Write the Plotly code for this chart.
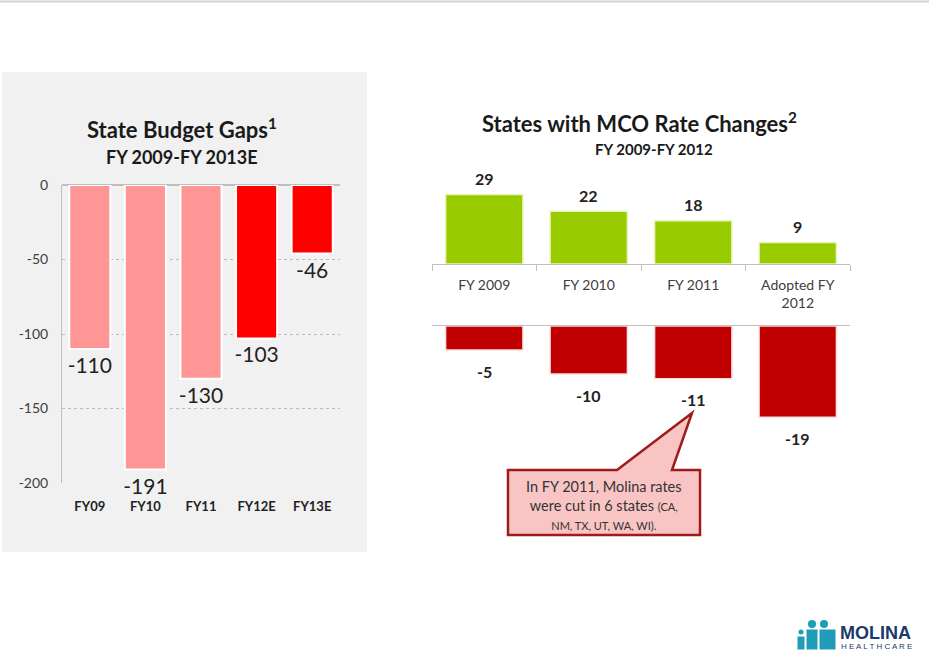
import plotly.graph_objects as go

W, H = 929, 657

# left chart: state budget gaps
budget_years = ["FY09", "FY10", "FY11", "FY12E", "FY13E"]
budget_gaps = [-110, -191, -130, -103, -46]
budget_ticks = [0, -50, -100, -150, -200]

# right chart: states with MCO rate changes
mco_years = ["FY 2009", "FY 2010", "FY 2011", "Adopted FY<br>2012"]
mco_increases = [29, 22, 18, 9]
mco_cuts = [-5, -10, -11, -19]

FONT = "Lato"


def px(x):
    return x / W


def py(y):
    return 1 - y / H


def path(points):
    s = "M " + " L ".join(f"{px(x):.5f},{py(y):.5f}" for x, y in points)
    return s + " Z"


def note(x, y, text, size, color="#1a1a1a", family=FONT, xanchor="center", **kw):
    return dict(x=px(x), y=py(y), xref="paper", yref="paper", showarrow=False,
                xanchor=xanchor, yanchor="middle", text=text,
                font=dict(family=family, size=size, color=color), **kw)


budget_colors = ["#FF0000" if y.endswith("E") else "#FF9696" for y in budget_years]

fig = go.Figure()

fig.add_trace(go.Bar(
    x=budget_years, y=budget_gaps, xaxis="x", yaxis="y",
    marker=dict(color=budget_colors, line=dict(color="white", width=2)),
    text=[str(v) for v in budget_gaps], texttemplate="%{text}",
    textposition="outside", constraintext="none", cliponaxis=False,
    textfont=dict(family=FONT, size=21, color="#222222"),
    hoverinfo="skip",
))

fig.add_trace(go.Bar(
    x=mco_years, y=mco_increases, xaxis="x2", yaxis="y2",
    marker=dict(color="#99CC00", line=dict(color="#EAF5C0", width=1.5)),
    cliponaxis=False, hoverinfo="skip",
))

fig.add_trace(go.Bar(
    x=mco_years, y=mco_cuts, xaxis="x3", yaxis="y3",
    marker=dict(color="#C00000", line=dict(color="#F5E0E0", width=1.5)),
    cliponaxis=False, hoverinfo="skip",
))

annotations = []
for cat, v in zip(mco_years, mco_increases):
    annotations.append(dict(x=cat, y=v, xref="x2", yref="y2", text=f"<b>{v}</b>",
                            showarrow=False, yshift=16,
                            font=dict(family=FONT, size=16, color="#222222")))
for cat, v in zip(mco_years, mco_cuts):
    annotations.append(dict(x=cat, y=v, xref="x3", yref="y3", text=f"<b>{v}</b>",
                            showarrow=False, yshift=-21,
                            font=dict(family=FONT, size=16, color="#222222")))

annotations += [
    note(182, 128, "<b>State Budget Gaps<sup>1</sup></b>", 22),
    note(182, 157, "<b>FY 2009-FY 2013E</b>", 18),
    note(639, 122, "<b>States with MCO Rate Changes<sup>2</sup></b>", 22),
    note(654, 149, "<b>FY 2009-FY 2012</b>", 15),
    note(604, 505,
         "In FY 2011, Molina rates<br>were cut in 6 states <span style='font-size:11px'>(CA,</span>"
         "<br><span style='font-size:11px'>NM, TX, UT, WA, WI).</span>",
         14.5, color="#333333", align="center"),
    note(838, 633, "<b>MOLINA</b>", 18, color="#1B3A6B", family="Liberation Sans", xanchor="left"),
    note(839, 646, "H E A L T H C A R E", 8, color="#1B3A6B", family="Liberation Sans", xanchor="left"),
]

shapes = [
    # top rule
    dict(type="line", xref="paper", yref="paper", x0=0, x1=1, y0=py(1.5), y1=py(1.5),
         line=dict(color="#D3D3D3", width=2)),
    # left panel background
    dict(type="rect", xref="paper", yref="paper", x0=px(2), x1=px(367), y0=py(552), y1=py(72),
         fillcolor="#F1F1F1", line=dict(width=0), layer="below"),
    # callout
    dict(type="path", xref="paper", yref="paper",
         path=path([(508, 470), (617, 470), (692, 413), (672, 470), (700, 470), (700, 535), (508, 535)]),
         fillcolor="#F9C4C4", line=dict(color="#9E1B1B", width=2.5), layer="below"),
]

# logo figures
TEAL = "#1F9CB8"
for cx, cy, r in [(801, 632, 2.5), (812, 624, 4), (824, 624, 4)]:
    shapes.append(dict(type="circle", xref="paper", yref="paper",
                       x0=px(cx - r), x1=px(cx + r), y0=py(cy + r), y1=py(cy - r),
                       fillcolor=TEAL, line=dict(width=0)))
for x0, x1, y0 in [(797, 805, 636), (806, 818, 629), (819, 836, 629)]:
    shapes.append(dict(type="rect", xref="paper", yref="paper",
                       x0=px(x0), x1=px(x1), y0=py(650), y1=py(y0),
                       fillcolor=TEAL, line=dict(color="white", width=1)))

fig.update_layout(
    width=W, height=H, margin=dict(l=0, r=0, t=0, b=0, pad=0, autoexpand=False),
    paper_bgcolor="white", plot_bgcolor="rgba(0,0,0,0)",
    showlegend=False, barmode="relative",
    annotations=annotations, shapes=shapes,
    xaxis=dict(domain=[px(62), px(340)], anchor="y", type="category",
               showline=False, ticks="", showgrid=False, automargin=False,
               tickfont=dict(family=FONT, size=13, color="#222222", weight="bold"),
               ticklabelstandoff=14),
    yaxis=dict(domain=[py(483), py(185)], anchor="x", range=[-200, 0], automargin=False,
               tickvals=budget_ticks, ticktext=[str(v) for v in budget_ticks],
               showline=True, linecolor="#BFBFBF", linewidth=1,
               showgrid=True, gridcolor="#BDBDBD", griddash="dot", gridwidth=1,
               zeroline=True, zerolinecolor="#BFBFBF", zerolinewidth=1.5,
               ticks="", ticklabelstandoff=10,
               tickfont=dict(family=FONT, size=14, color="#404040")),
    xaxis2=dict(domain=[px(432), px(850)], anchor="y2", type="category", automargin=False,
                showline=True, linecolor="#BFBFBF", linewidth=1,
                ticks="outside", tickson="boundaries", ticklen=6, tickcolor="#BFBFBF",
                showgrid=False, ticklabelstandoff=8,
                tickfont=dict(family=FONT, size=14, color="#404040")),
    yaxis2=dict(domain=[py(264), py(180)], anchor="x2", range=[0, 35], visible=False),
    xaxis3=dict(domain=[px(432), px(850)], anchor="y3", type="category", side="top",
                showline=True, linecolor="#BFBFBF", linewidth=1, automargin=False,
                ticks="", showticklabels=False, showgrid=False),
    yaxis3=dict(domain=[py(422), py(326)], anchor="x3", range=[-20, 0], visible=False),
    bargap=0.26,
)

fig.write_html("out.html", config={"displayModeBar": False},
               post_script="document.body.style.margin='0';")
